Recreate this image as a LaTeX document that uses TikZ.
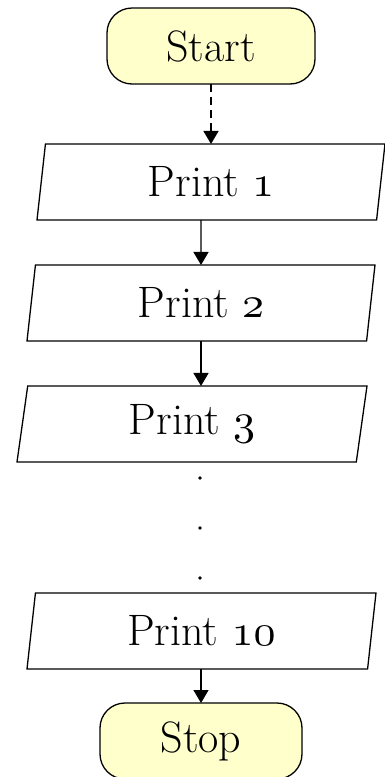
\documentclass[tikz,border=0pt]{standalone}
\usetikzlibrary{shapes.geometric,arrows.meta}
\definecolor{termfill}{HTML}{FFFFCC}
% old-style figures from the math italic font, scalable to any size
\DeclareFontFamily{OML}{oldnum}{\skewchar\font=127}
\DeclareFontShape{OML}{oldnum}{m}{it}{<-> cmmi10}{}
\newcommand{\osn}[1]{{\usefont{OML}{oldnum}{m}{it}#1}}
\begin{document}
\begin{tikzpicture}[x=1pt,y=-1pt,
  every node/.style={font=\fontsize{44}{52}\selectfont},
  terminal/.style={draw, line width=1.3pt, fill=termfill, rounded corners=25pt,
    minimum height=76pt, inner sep=0pt, outer sep=0pt},
  iobox/.style={draw, line width=1.3pt, trapezium, trapezium stretches body,
    trapezium left angle=74.5, trapezium right angle=105.5,
    minimum width=348pt, minimum height=76pt, inner sep=0pt, outer sep=0pt},
  flow/.style={line width=1.3pt, -{Triangle[length=13pt,width=15pt]}},
  gapdot/.style={circle, fill=black, inner sep=0pt, minimum size=3.6pt}]
\useasboundingbox (0,0) rectangle (385,777);

\node[terminal, minimum width=208pt] (start) at (211,46) {Start};
\node[iobox] (p1) at (211,182) {Print \osn{1}};
\node[iobox] (p2) at (201,303) {Print \osn{2}};
\node[iobox, minimum width=350pt] (p3) at (192,424) {Print \osn{3}};
\node[gapdot] (d1) at (200,478) {};
\node[gapdot] (d2) at (200,528) {};
\node[gapdot] (d3) at (200,578) {};
\node[iobox, minimum width=349pt] (p10) at (201.5,631) {Print \osn{10}};
\node[terminal, minimum width=202pt] (stop) at (201,741) {Stop};

\draw[flow, dash pattern=on 8pt off 5pt] (start.south) -- (start.south |- p1.north);
\draw[flow] (201,220) -- (p2.north);
\draw[flow] (p2.south) -- (p3.north -| p2.south);
\draw[flow] (p10.south -| stop.north) -- (stop.north);
\end{tikzpicture}
\end{document}
